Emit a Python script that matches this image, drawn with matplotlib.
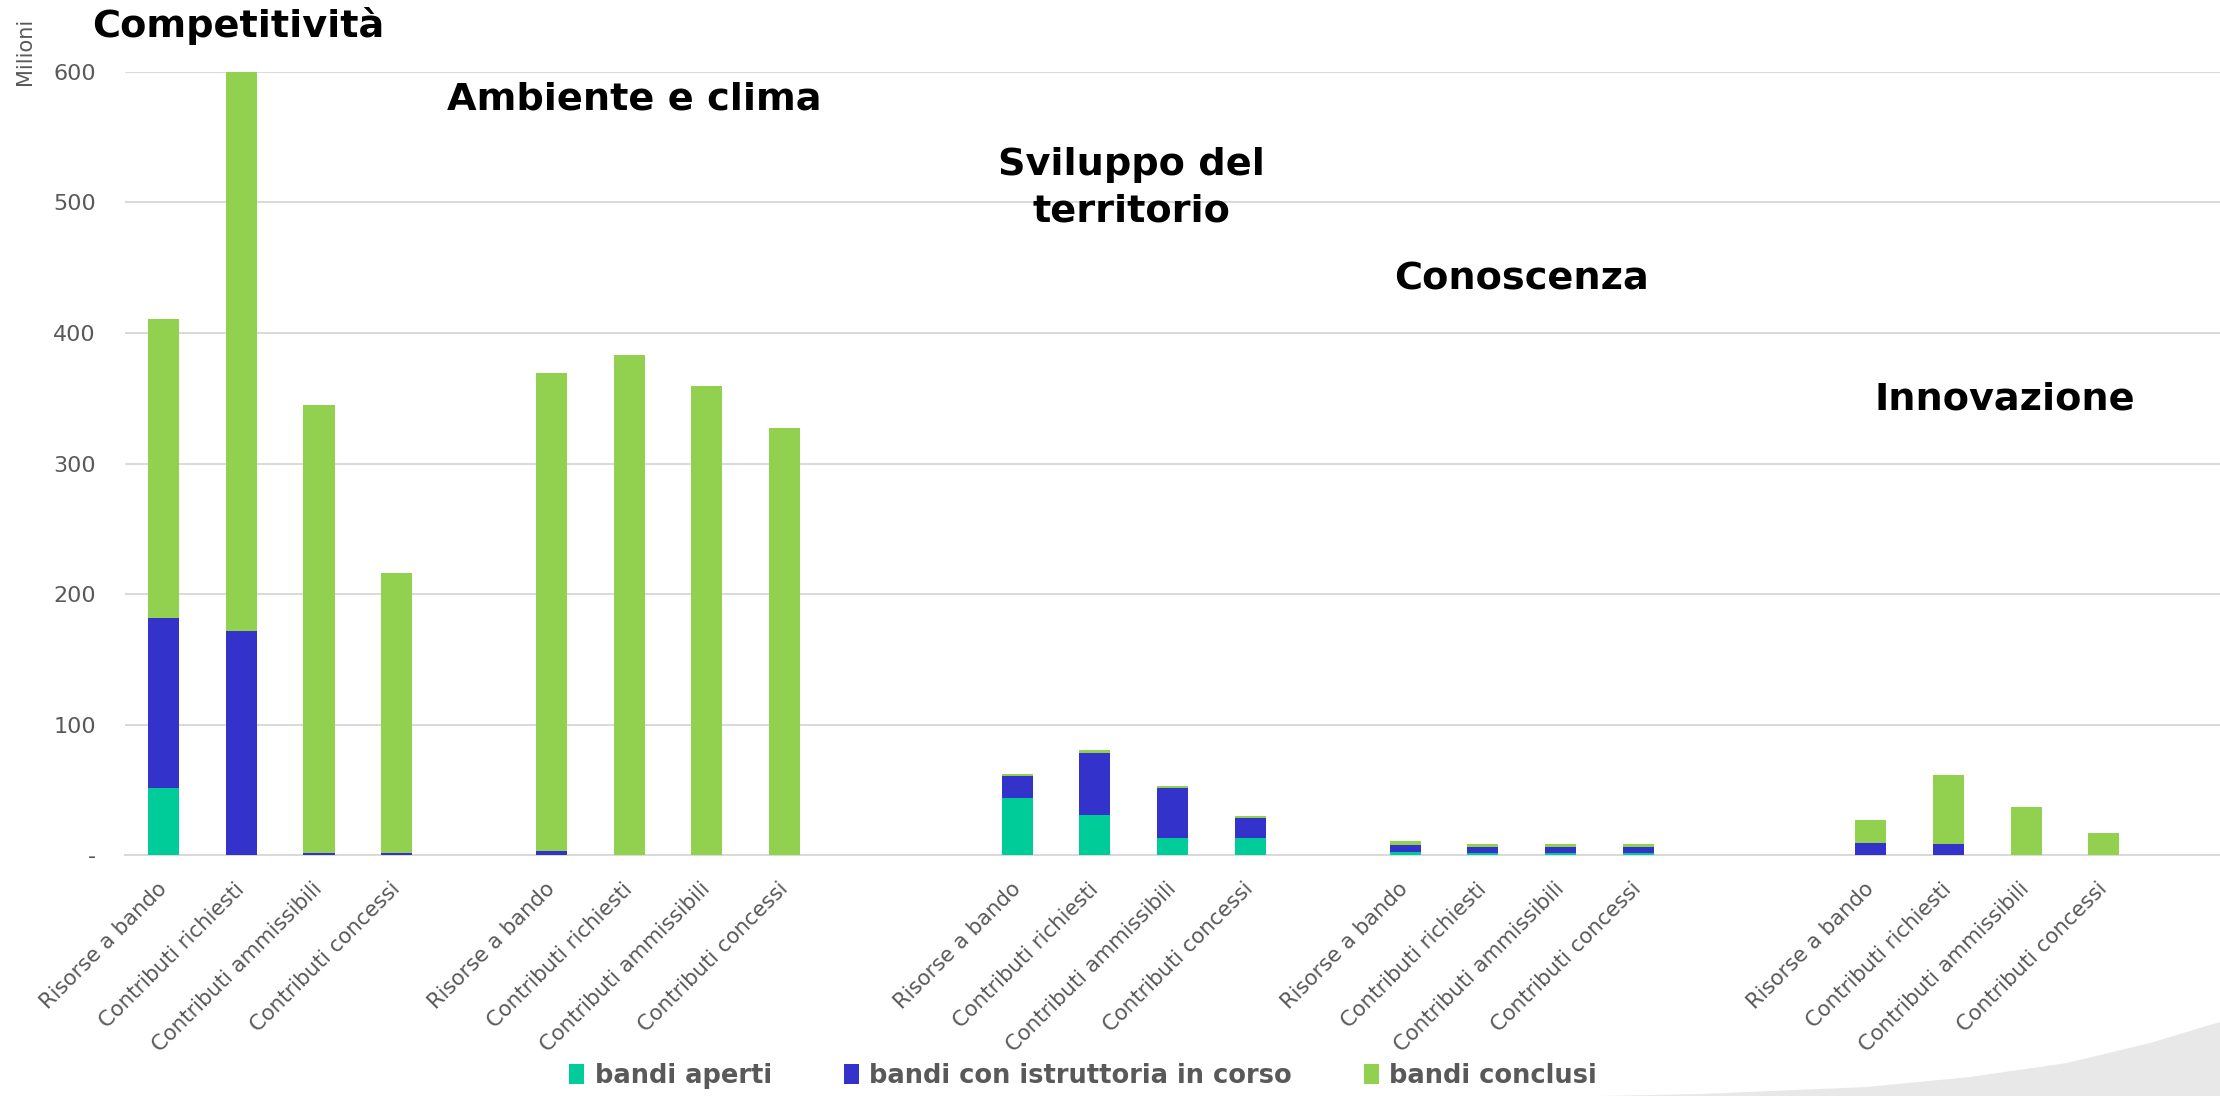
import matplotlib
matplotlib.use("Agg")
import matplotlib.pyplot as plt
from matplotlib.patches import Polygon, Patch
import numpy as np

# ---------------- data ----------------
groups = ["Competitività", "Ambiente e clima", "Sviluppo del\nterritorio", "Conoscenza", "Innovazione"]
categories = ["Risorse a bando", "Contributi richiesti", "Contributi ammissibili", "Contributi concessi"]
series_names = ["bandi aperti", "bandi con istruttoria in corso", "bandi conclusi"]

# values in millions, one list per group (4 categories each)
aperti = [
    [51.3, 0.0, 0.0, 0.0],
    [0.0, 0.0, 0.0, 0.0],
    [43.6, 30.9, 13.0, 13.0],
    [2.5, 1.5, 1.5, 1.5],
    [0.0, 0.0, 0.0, 0.0],
]
istruttoria = [
    [130.4, 172.0, 1.8, 1.8],
    [3.0, 0.0, 0.0, 0.0],
    [16.9, 47.7, 38.8, 15.8],
    [5.4, 4.9, 4.9, 4.9],
    [9.2, 8.4, 0.0, 0.0],
]
conclusi = [
    [228.7, 428.0, 343.0, 214.6],
    [366.3, 383.0, 359.6, 327.2],
    [1.7, 1.8, 1.5, 1.5],
    [3.0, 2.2, 2.2, 2.2],
    [18.1, 53.4, 37.3, 17.4],
]
y_ticks = [0, 100, 200, 300, 400, 500, 600]
y_ticklabels = ["-", "100", "200", "300", "400", "500", "600"]

# ---------------- layout ----------------
colors = ["#00CC99", "#3333CC", "#92D050"]
gap_before = [0, 1, 2, 1, 2]  # empty category slots before each group

W, H = 2220, 1096
fig = plt.figure(figsize=(W / 100, H / 100), dpi=100)
fig.patch.set_facecolor("white")

# decorative grey swoosh bottom-right
sw = np.array([(1600, 1096), (1700, 1094), (1867, 1087), (1970, 1077), (2067, 1063),
               (2150, 1043), (2220, 1022), (2220, 1096)], dtype=float)
sw[:, 0] /= W
sw[:, 1] = (H - sw[:, 1]) / H
fig.patches.append(Polygon(sw, closed=True, transform=fig.transFigure,
                           facecolor="#e8e8e8", edgecolor="none", zorder=0))

ax_left, ax_right = 125 / W, 2220 / W
ax_bottom, ax_top = (H - 855.3) / H, (H - 71.7) / H
ax = fig.add_axes([ax_left, ax_bottom, ax_right - ax_left, ax_top - ax_bottom])
ax.set_facecolor("none")

positions = []
labels = []
slot = 0
for g in range(len(groups)):
    slot += gap_before[g]
    for c in range(len(categories)):
        positions.append(slot)
        labels.append(categories[c])
        slot += 1
positions = np.array(positions, dtype=float)

a = np.array(aperti).ravel()
b = np.array(istruttoria).ravel()
c = np.array(conclusi).ravel()
bw = 0.4
ax.bar(positions, a, bw, color=colors[0], zorder=3, linewidth=0)
ax.bar(positions, b, bw, bottom=a, color=colors[1], zorder=3, linewidth=0)
ax.bar(positions, c, bw, bottom=a + b, color=colors[2], zorder=3, linewidth=0)

ax.set_xlim(-0.5, 26.5)
ax.set_ylim(0, 600)
ax.set_yticks(y_ticks)
ax.set_yticklabels(y_ticklabels)
ax.yaxis.grid(True, color="#d9d9d9", linewidth=1.4, zorder=0)
ax.set_axisbelow(True)
for s in ["top", "right", "left"]:
    ax.spines[s].set_visible(False)
ax.spines["bottom"].set_color("#d9d9d9")
ax.spines["bottom"].set_linewidth(1.4)
ax.tick_params(axis="both", length=0)
ax.tick_params(axis="y", labelsize=16, labelcolor="#595959", pad=21)

ax.set_xticks(positions)
ax.set_xticklabels(labels, rotation=45, ha="right", va="center",
                   rotation_mode="anchor", fontsize=15.3, color="#595959")
ax.tick_params(axis="x", pad=22)

# y unit label
fig.text(25 / W, (H - 51) / H, "Milioni", rotation=90, ha="center", va="center",
         fontsize=15, color="#595959")

# group titles (pixel positions in the figure)
title_pos = [(238, 26), (634, 99), (1131, 188), (1521, 280), (2005, 400)]
for name, (px, py) in zip(groups, title_pos):
    fig.text(px / W, (H - py) / H, name, ha="center", va="center",
             fontsize=27.5, fontweight="bold", color="black", linespacing=1.38)

handles = [Patch(facecolor=colors[i], edgecolor="none") for i in range(3)]
leg = fig.legend(handles, series_names, loc="center", bbox_to_anchor=(1083 / W, 20 / H),
                 ncol=3, frameon=False, handlelength=0.58, handleheight=0.8,
                 handletextpad=0.4, columnspacing=2.8,
                 prop={"size": 18.5, "weight": "bold"})
for t in leg.get_texts():
    t.set_color("#595959")

fig.savefig("out.png", dpi=100, facecolor="white")
